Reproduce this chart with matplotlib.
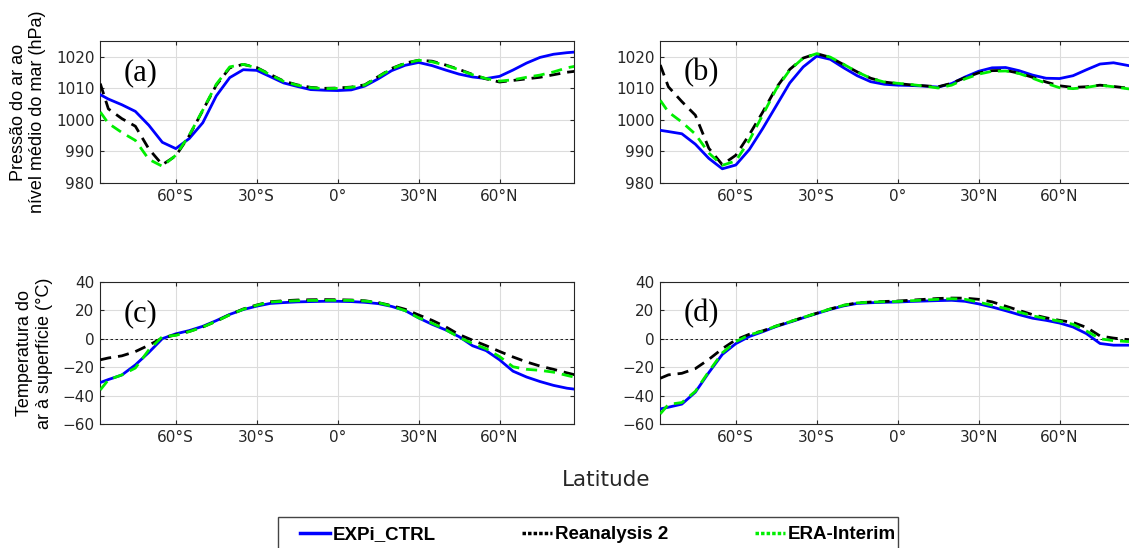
import numpy as np
import matplotlib
matplotlib.use('Agg')
import matplotlib.pyplot as plt
from matplotlib.lines import Line2D
from matplotlib.patches import Rectangle

# ─── Dados ──────────────────────────────────────────────────────────────────
lat = [-88, -85, -80, -75, -70, -65, -60, -55, -50, -45, -40, -35, -30, -25,
       -20, -15, -10, -5, 0, 5, 10, 15, 20, 25, 30, 35, 40, 45, 50, 55, 60,
       65, 70, 75, 80, 85, 88]

# (a) pressão - EXPi_CTRL / Reanalysis 2 / ERA-Interim
slp_a_ctrl = [1008.0, 1006.6, 1004.8, 1002.7, 998.3, 992.9, 990.9, 994.1, 999.1, 1007.6,
              1013.4, 1015.9, 1015.7, 1013.7, 1011.7, 1010.6, 1009.6, 1009.4, 1009.3,
              1009.5, 1010.7, 1013.0, 1015.6, 1017.3, 1018.2, 1017.2, 1015.8, 1014.5,
              1013.6, 1013.1, 1013.8, 1015.8, 1018.0, 1019.8, 1020.8, 1021.3, 1021.5]
slp_a_r2 = [1011.5, 1003.5, 1000.4, 998.0, 990.8, 985.8, 988.6, 995.0, 1003.0, 1011.0,
            1016.5, 1017.6, 1016.6, 1014.4, 1012.3, 1011.1, 1010.3, 1010.0, 1010.1,
            1010.4, 1011.1, 1013.7, 1016.3, 1018.0, 1018.9, 1018.6, 1017.4, 1016.0,
            1014.4, 1013.0, 1012.0, 1012.5, 1013.0, 1013.5, 1014.3, 1015.1, 1015.4]
slp_a_era = [1002.5, 998.9, 996.0, 993.5, 987.5, 985.3, 988.8, 995.2, 1003.1, 1011.3,
             1016.8, 1017.6, 1016.5, 1014.3, 1012.2, 1011.0, 1010.2, 1009.9, 1010.0,
             1010.3, 1011.0, 1013.6, 1016.2, 1017.9, 1018.9, 1018.4, 1017.3, 1015.9,
             1014.3, 1013.1, 1012.3, 1012.7, 1013.5, 1014.2, 1015.2, 1016.5, 1017.0]

# (b) pressão
slp_b_ctrl = [996.7, 996.3, 995.6, 992.3, 987.8, 984.5, 985.7, 990.6, 997.3, 1004.5,
              1011.7, 1016.8, 1020.2, 1019.2, 1016.5, 1014.0, 1012.1, 1011.3, 1011.0,
              1010.9, 1010.7, 1010.4, 1011.5, 1013.6, 1015.4, 1016.5, 1016.6, 1015.6,
              1014.2, 1013.2, 1013.1, 1014.0, 1015.9, 1017.7, 1018.1, 1017.3, 1016.8]
slp_b_r2 = [1017.4, 1010.5, 1005.8, 1001.5, 991.0, 985.8, 988.8, 995.3, 1002.5, 1010.2,
            1016.0, 1019.6, 1021.0, 1019.8, 1017.5, 1015.2, 1013.2, 1012.0, 1011.5,
            1011.1, 1010.8, 1010.5, 1011.6, 1013.4, 1014.9, 1015.6, 1015.7, 1014.8,
            1013.5, 1012.0, 1010.8, 1010.3, 1010.5, 1011.0, 1010.6, 1010.1, 1009.8]
slp_b_era = [1006.2, 1002.5, 999.3, 995.5, 989.5, 985.6, 987.0, 993.5, 1001.6, 1009.8,
             1015.8, 1019.6, 1021.0, 1019.9, 1017.6, 1015.2, 1013.2, 1012.0, 1011.6,
             1011.2, 1010.7, 1010.1, 1011.0, 1013.0, 1014.5, 1015.4, 1015.5, 1014.7,
             1013.2, 1011.6, 1010.2, 1009.9, 1010.3, 1011.0, 1010.5, 1009.9, 1009.6]

# (c) temperatura
t_c_ctrl = [-30.8, -28.7, -25.5, -18.4, -9.6, 0.1, 3.5, 5.8, 8.8, 12.8, 17.2, 20.6, 23.0,
            24.9, 25.5, 26.0, 26.2, 26.4, 26.4, 26.2, 25.7, 24.8, 22.8, 19.9, 14.7, 10.2,
            6.3, 1.5, -4.9, -8.3, -14.8, -22.8, -26.9, -30.1, -32.8, -34.8, -35.5]
t_c_r2 = [-14.8, -13.5, -12.0, -9.0, -4.5, 0.6, 2.8, 5.2, 8.3, 12.4, 17.0, 21.0, 23.8,
          26.1, 26.8, 27.3, 27.5, 27.6, 27.5, 27.3, 26.8, 25.5, 23.4, 20.8, 16.8, 13.0,
          8.5, 3.0, -1.0, -4.8, -8.9, -12.8, -16.3, -19.2, -21.5, -24.0, -25.4]
t_c_era = [-36.0, -28.9, -25.4, -20.6, -7.8, 1.5, 2.4, 5.1, 8.3, 12.4, 16.9, 20.8, 23.6,
           25.9, 26.4, 26.8, 27.0, 27.1, 27.1, 27.0, 26.6, 25.5, 23.0, 19.8, 14.8, 11.0,
           6.5, 1.0, -3.3, -7.0, -12.5, -19.7, -21.5, -22.2, -23.5, -25.8, -27.1]

# (d) temperatura
t_d_ctrl = [-49.4, -48.2, -46.0, -37.6, -23.8, -11.0, -3.4, 1.6, 5.0, 8.7, 11.7, 14.8,
            17.8, 20.7, 23.2, 24.9, 25.4, 25.7, 25.9, 26.3, 26.6, 26.9, 27.1, 26.4, 24.6,
            22.4, 19.8, 17.0, 14.5, 13.0, 11.1, 8.3, 3.6, -3.3, -4.5, -4.5, -4.5]
t_d_r2 = [-27.8, -25.4, -24.3, -21.0, -14.5, -7.0, -0.7, 3.2, 5.6, 9.0, 12.0, 15.1, 18.0,
          21.0, 23.6, 25.3, 25.9, 26.3, 26.6, 27.2, 27.8, 28.4, 28.7, 28.6, 27.8, 26.0,
          23.0, 20.0, 17.0, 14.8, 13.0, 11.5, 8.0, 2.0, 0.5, -0.5, -0.8]
t_d_era = [-52.9, -46.2, -44.9, -37.0, -23.0, -9.9, -2.0, 2.7, 5.5, 9.0, 12.0, 15.1, 18.0,
           21.0, 23.6, 25.3, 25.8, 26.1, 26.3, 26.8, 27.3, 27.8, 28.2, 27.8, 25.8, 23.6,
           21.3, 18.8, 16.2, 14.2, 12.4, 10.2, 5.5, 0.0, -1.3, -1.9, -2.0]

x_ticks = [-60, -30, 0, 30, 60]
x_ticklabels = ['60°S', '30°S', '0°', '30°N', '60°N']
labels = ['EXPi_CTRL', 'Reanalysis 2', 'ERA-Interim']
panel_names = ['(a)', '(b)', '(c)', '(d)']

BLUE = '#0000ff'
BLACK = '#000000'
GREEN = '#00ee00'

# ─── Figura ────────────────────────────────────────────────────────────────
W, H = 1129, 548
fig = plt.figure(figsize=(W / 100, H / 100), dpi=100)

def px_axes(left, top, right, bottom):
    return fig.add_axes([left / W, 1 - bottom / H, (right - left) / W, (bottom - top) / H])

axes = [px_axes(100, 41, 574, 183), px_axes(660, 41, 1134, 183),
        px_axes(100, 282, 574, 424), px_axes(660, 282, 1134, 424)]

data = [(slp_a_ctrl, slp_a_r2, slp_a_era), (slp_b_ctrl, slp_b_r2, slp_b_era),
        (t_c_ctrl, t_c_r2, t_c_era), (t_d_ctrl, t_d_r2, t_d_era)]

for i, (ax, (ctrl, r2, era)) in enumerate(zip(axes, data)):
    if i >= 2:
        ax.axhline(0, color='black', lw=0.6, ls=(0, (3, 3)), zorder=1)
    ax.plot(lat, ctrl, color=BLUE, lw=2.0, zorder=3)
    ax.plot(lat, r2, color=BLACK, lw=2.0, ls=(0, (4, 2.5)), zorder=4)
    ax.plot(lat, era, color=GREEN, lw=2.0, ls=(0, (4, 2.5)), zorder=5)

    ax.set_xlim(-88.1, 87.6)
    ax.set_xticks(x_ticks)
    ax.set_xticklabels(x_ticklabels)
    if i < 2:
        ax.set_ylim(980, 1025)
        ax.set_yticks([980, 990, 1000, 1010, 1020])
    else:
        ax.set_ylim(-60, 40)
        ax.set_yticks([-60, -40, -20, 0, 20, 40])
    ax.grid(True, color='#dcdcdc', lw=0.8)
    ax.set_axisbelow(True)
    ax.tick_params(direction='in', length=3, labelsize=11, colors='#262626',
                   top=True, right=True, pad=4)
    for s in ax.spines.values():
        s.set_color('#262626')
        s.set_linewidth(0.8)
    ax.text(0.05, 0.78, panel_names[i], transform=ax.transAxes, va='center', ha='left',
            fontsize=22, family='Liberation Serif')

axes[0].set_ylabel('Pressão do ar ao\nnível médio do mar (hPa)', fontsize=13,
                   family='Liberation Sans', labelpad=7)
axes[2].set_ylabel('Temperatura do\nar à superfície (°C)', fontsize=13,
                   family='Liberation Sans', labelpad=7)

fig.text(606 / W, 1 - 480 / H, 'Latitude', ha='center', va='center', fontsize=15.5,
         color='#262626')

# caixa da legenda (cortada na borda inferior, como no original)
fig.patches.append(Rectangle((278 / W, -0.05), (898 - 278) / W, 0.05 + 1 - 517 / H,
                             transform=fig.transFigure, fill=False,
                             edgecolor='#444444', lw=1.0))

handles = [Line2D([], [], color=BLUE, lw=2.5),
           Line2D([], [], color=BLACK, lw=2.5, ls=(0, (1, 0.6))),
           Line2D([], [], color=GREEN, lw=2.5, ls=(0, (1, 0.6)))]
leg = fig.legend(handles, labels, ncol=3, loc='upper left',
                 bbox_to_anchor=(300 / W, 1 - 526 / H),
                 prop={'family': 'Liberation Sans', 'weight': 'bold', 'size': 13.5},
                 frameon=False, handlelength=1.6, handletextpad=0.15,
                 columnspacing=4.6, borderpad=0, borderaxespad=0)

fig.savefig('out.png', dpi=100)
